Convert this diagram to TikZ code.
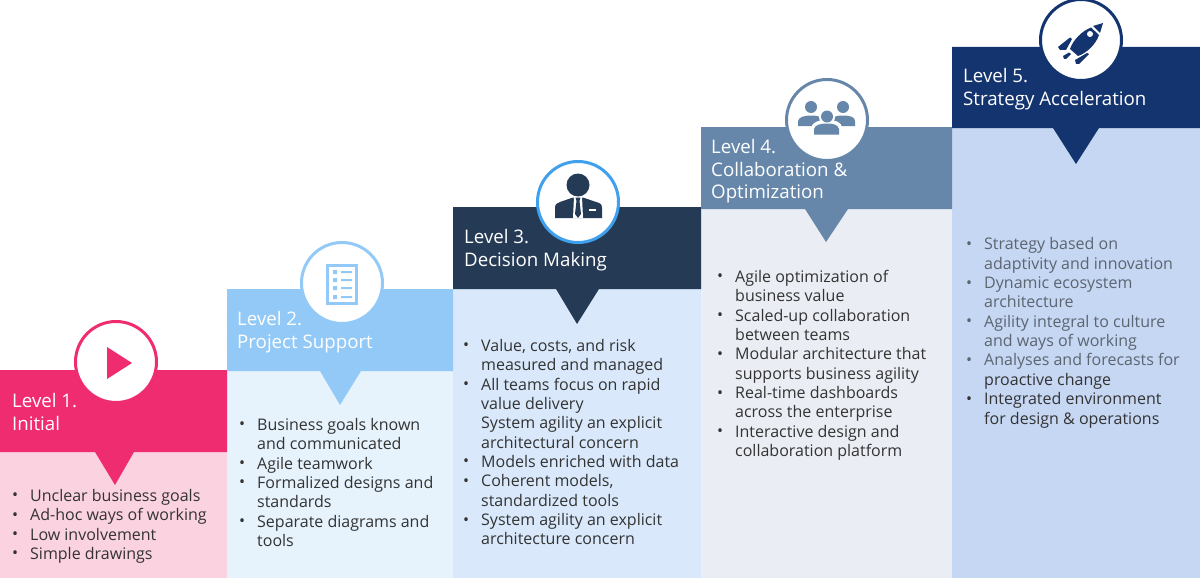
\documentclass[tikz,border=0pt]{standalone}
\usepackage{fontspec}
\setmainfont{Open Sans}
\definecolor{pinkhead}{HTML}{F02C70}
\definecolor{pinkbody}{HTML}{FAD2E0}
\definecolor{skyhead}{HTML}{93C9F6}
\definecolor{skybody}{HTML}{E6F3FD}
\definecolor{darkhead}{HTML}{253A54}
\definecolor{darkbody}{HTML}{D9E9FB}
\definecolor{darkring}{HTML}{3FA0EE}
\definecolor{steelhead}{HTML}{6687AA}
\definecolor{steelbody}{HTML}{EAEEF4}
\definecolor{navyhead}{HTML}{14346F}
\definecolor{navybody}{HTML}{C6D7F3}
\definecolor{listtext}{HTML}{333333}
\definecolor{fadetext}{HTML}{5C6570}
\newcommand{\bul}{\makebox[18pt][l]{\raisebox{0.5pt}{\textbullet}}}
\newcommand{\con}{\hspace*{18pt}}
\tikzset{
    headtext/.style = {anchor = north west, inner sep = 0, align = left, text = white,
        font = \fontsize{18.7}{22.6}\selectfont},
    listtext/.style = {anchor = north west, inner sep = 0, align = left, text = listtext,
        font = \fontsize{16}{19.35}\selectfont},
    iconring/.style = {circle, fill = white, line width = 3pt, minimum size = 81pt, inner sep = 0}
}
\begin{document}
\begin{tikzpicture}[x = 1pt, y = -1pt]
    \useasboundingbox (0, 0) rectangle (1200, 578);

    % bodies
    \fill [pinkbody] (0, 452) rectangle (227, 578);
    \fill [skybody] (227, 371) rectangle (453, 578);
    \fill [darkbody] (453, 289) rectangle (701, 578);
    \fill [steelbody] (701, 209) rectangle (952, 578);
    \fill [navybody] (952, 128) rectangle (1200, 578);

    % heads with their pointers
    \fill [pinkhead] (0, 370) rectangle (227, 452) (95, 452) -- (115, 485) -- (134, 452) -- cycle;
    \fill [skyhead] (227, 289) rectangle (453, 371) (320, 371) -- (340, 405) -- (361, 371) -- cycle;
    \fill [darkhead] (453, 207) rectangle (701, 289) (556, 289) -- (577, 324) -- (599, 289) -- cycle;
    \fill [steelhead] (701, 127) rectangle (952, 209) (805, 209) -- (826, 242) -- (848, 209) -- cycle;
    \fill [navyhead] (952, 47) rectangle (1200, 128) (1053, 128) -- (1076, 164) -- (1099, 128) -- cycle;

    % rings
    \node [iconring, draw = pinkhead] (ring1) at (116, 362) {};
    \node [iconring, draw = skyhead] (ring2) at (342, 283) {};
    \node [iconring, draw = darkring] (ring3) at (578, 202) {};
    \node [iconring, draw = steelhead] (ring4) at (827, 120) {};
    \node [iconring, draw = navyhead] (ring5) at (1081, 40) {};

    % play
    \fill [pinkhead] (107, 347) -- (132, 363) -- (107, 379) -- cycle;

    % list
    \draw [skyhead, line width = 3pt] (327.5, 265.5) rectangle (356.5, 303.5);
    \fill [skyhead]
        (333, 270) rectangle (337, 274) (341, 271) rectangle (352, 273)
        (333, 278) rectangle (337, 282) (341, 279) rectangle (352, 281)
        (333, 286) rectangle (337, 290) (341, 287) rectangle (352, 289)
        (333, 295) rectangle (337, 299) (341, 296) rectangle (352, 298);

    % person
    \fill [darkhead] (578, 185) circle [radius = 11.5];
    \fill [darkhead] (555, 218) -- (555, 208) .. controls (555, 204) and (557, 203) .. (560, 202)
        -- (573, 197.5) -- (583, 197.5) -- (596, 202) .. controls (600, 203) and (602, 204) .. (602, 208)
        -- (602, 218) -- cycle;
    \fill [white] (574, 197) -- (582, 197) -- (583, 218) -- (573, 218) -- cycle;
    \fill [darkhead] (575.5, 197.5) -- (580.5, 197.5) -- (579.5, 201) -- (581, 214) -- (578, 218) -- (575, 214) -- (576.5, 201) -- cycle;
    \fill [white] (589, 209) rectangle (596, 210.5);

    % group
    \fill [steelhead] (811, 107) circle [radius = 6] (843, 107) circle [radius = 6];
    \fill [steelhead] (798, 126) -- (798, 121) .. controls (799, 117) and (804, 115.5) .. (811, 115.5)
        .. controls (818, 115.5) and (823, 117) .. (824, 121) -- (824, 126) -- cycle;
    \fill [steelhead] (830, 126) -- (830, 121) .. controls (831, 117) and (836, 115.5) .. (843, 115.5)
        .. controls (850, 115.5) and (855, 117) .. (855, 121) -- (855, 126) -- cycle;
    \fill [white] (827, 117) circle [radius = 8];
    \fill [white] (811, 134) -- (811, 128) .. controls (812, 122) and (819, 120) .. (827, 120)
        .. controls (835, 120) and (842, 122) .. (842, 128) -- (842, 134) -- cycle;
    \fill [steelhead] (827, 116.5) circle [radius = 6];
    \fill [steelhead] (814, 134.5) -- (814, 129) .. controls (815, 125) and (820, 123.5) .. (827, 123.5)
        .. controls (834, 123.5) and (838, 125) .. (839, 129) -- (839, 134.5) -- cycle;

    % rocket
    \fill [navyhead] (1103, 23) -- (1093, 26) -- (1100, 33) -- cycle;
    \fill [navyhead] (1091, 27.5) .. controls (1082, 31) and (1073, 40) .. (1070, 49) -- (1078, 56)
        .. controls (1087, 53) and (1096, 44) .. (1099, 35) -- cycle;
    \fill [white] (1090, 34) circle [radius = 3];
    \fill [navyhead] (1058, 47) -- (1070, 37.5) -- (1072, 39) -- (1066, 50) -- (1060, 50) -- cycle;
    \fill [navyhead] (1075, 60) -- (1087, 53) -- (1089, 54) -- (1079, 64) -- (1076, 64) -- cycle;
    \fill [navyhead] (1063, 56) -- (1069, 52.5) -- (1071, 54) -- (1066, 59) -- (1064, 59) -- cycle;

    % titles
    \node [headtext] (title1) at (12, 393.5) {Level 1.\\Initial};
    \node [headtext] (title2) at (237, 311) {Level 2.\\Project Support};
    \node [headtext] (title3) at (464, 229) {Level 3.\\Decision Making};
    \node [headtext] (title4) at (711, 139) {Level 4.\\Collaboration \&\\Optimization};
    \node [headtext] (title5) at (963, 68) {Level 5.\\Strategy Acceleration};

    % lists
    \node [listtext] (list1) at (12, 489) {\bul Unclear business goals\\\bul Ad-hoc ways of working\\\bul Low involvement\\\bul Simple drawings};
    \node [listtext] (list2) at (239, 418) {\bul Business goals known\\\con and communicated\\\bul Agile teamwork\\\bul Formalized designs and\\\con standards\\\bul Separate diagrams and\\\con tools};
    \node [listtext] (list3) at (463, 339) {\bul Value, costs, and risk\\\con measured and managed\\\bul All teams focus on rapid\\\con value delivery\\\con System agility an explicit\\\con architectural concern\\\bul Models enriched with data\\\bul Coherent models,\\\con standardized tools\\\bul System agility an explicit\\\con architecture concern};
    \node [listtext] (list4) at (717, 270) {\bul Agile optimization of\\\con business value\\\bul Scaled-up collaboration\\\con between teams\\\bul Modular architecture that\\\con supports business agility\\\bul Real-time dashboards\\\con across the enterprise\\\bul Interactive design and\\\con collaboration platform};
    \node [listtext] (list5) at (966, 237.5) {\color{fadetext}\bul Strategy based on\\\color{fadetext}\con adaptivity and innovation\\\color{fadetext}\bul Dynamic ecosystem\\\color{fadetext}\con architecture\\\color{fadetext}\bul Agility integral to culture\\\color{fadetext}\con and ways of working\\\color{fadetext}\bul Analyses and forecasts for\\\con proactive change\\\bul Integrated environment\\\con for design \& operations};
\end{tikzpicture}
\end{document}
